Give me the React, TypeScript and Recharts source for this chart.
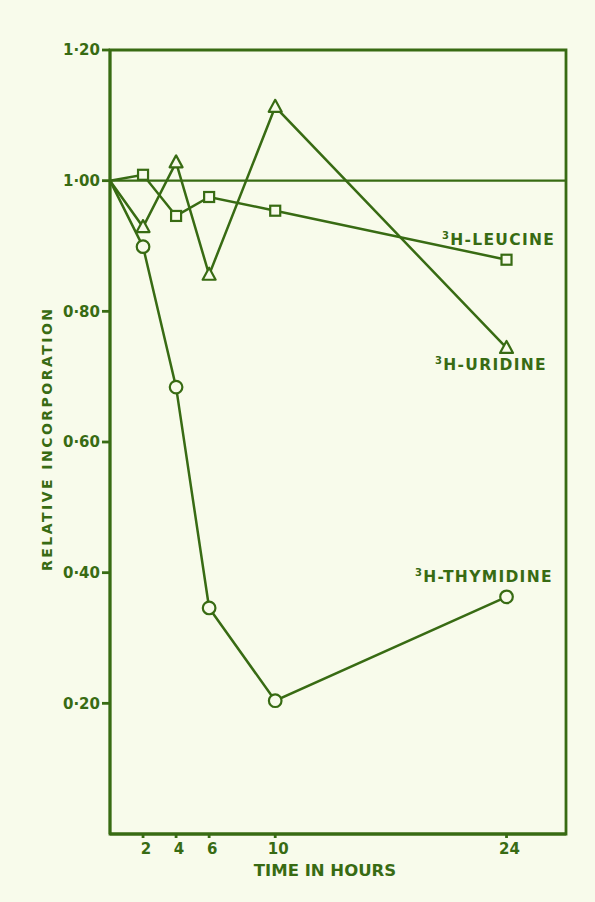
import React from "react";
import { LineChart, Line, XAxis, YAxis, ReferenceLine, ReferenceArea } from "recharts";

const INK = "#386b13";
const PAPER = "#f8fbeb";
const FONT = "'DejaVu Sans', sans-serif";

const HOURS = [0, 2, 4, 6, 10, 24];
const LEUCINE = [1.0, 1.009, 0.946, 0.975, 0.954, 0.879];
const URIDINE = [1.0, 0.929, 1.028, 0.856, 1.113, 0.744];
const THYMIDINE = [1.0, 0.899, 0.684, 0.346, 0.204, 0.363];

const X_TICKS = [2, 4, 6, 10, 24];
const Y_TICKS = [0.2, 0.4, 0.6, 0.8, 1.0, 1.2];

const data = HOURS.map((h, i) => ({
  h,
  leucine: LEUCINE[i],
  uridine: URIDINE[i],
  thymidine: THYMIDINE[i],
}));

const fmt = (v: number) => v.toFixed(2).replace(".", "·");

const Square = ({ cx, cy, index }: any) => {
  if (index === 0) return <g key={index} />;
  return <rect key={index} x={cx - 5} y={cy - 5} width={10} height={10} fill={PAPER} stroke={INK} strokeWidth={2.2} />;
};

const Triangle = ({ cx, cy, index }: any) => {
  if (index === 0) return <g key={index} />;
  return (
    <polygon
      key={index}
      points={`${cx},${cy - 7} ${cx - 6.5},${cy + 5} ${cx + 6.5},${cy + 5}`}
      fill={PAPER}
      stroke={INK}
      strokeWidth={2.2}
      strokeLinejoin="round"
    />
  );
};

const Circle = ({ cx, cy, index }: any) => {
  if (index === 0) return <g key={index} />;
  return <circle key={index} cx={cx} cy={cy} r={6.3} fill={PAPER} stroke={INK} strokeWidth={2.2} />;
};

const tickStyle = { fill: INK, fontSize: 15, fontWeight: 700, fontFamily: FONT };

const SeriesLabel = ({ x, y, text }: { x: number; y: number; text: string }) => (
  <text x={x} y={y} fill={INK} fontFamily={FONT} fontWeight={700} fontSize={15.5} letterSpacing={1.3}>
    <tspan fontSize={10} dy={-6}>3</tspan>
    <tspan dy={6}>{text}</tspan>
  </text>
);

export default function App() {
  return (
    <div style={{ position: "absolute", left: 0, top: 0, width: 595, height: 902, background: PAPER }}>
      <LineChart width={595} height={902} data={data} margin={{ top: 50, right: 29, bottom: 0, left: 0 }}>
        <XAxis
          dataKey="h"
          type="number"
          domain={[0, 27.6]}
          ticks={X_TICKS}
          height={68}
          tick={{ ...tickStyle, dx: 3 }}
          tickSize={4}
          tickMargin={5}
          stroke={INK}
          strokeWidth={2.8}
          label={{
            value: "TIME IN HOURS",
            content: () => (
              <text x={325} y={876} textAnchor="middle" fill={INK} fontFamily={FONT} fontWeight={700} fontSize={16.5}>
                TIME IN HOURS
              </text>
            ),
          }}
        />
        <YAxis
          type="number"
          domain={[0, 1.2]}
          ticks={Y_TICKS}
          width={110}
          tick={tickStyle}
          tickFormatter={fmt}
          tickSize={8}
          tickMargin={2}
          stroke={INK}
          strokeWidth={2.8}
          label={{
            value: "RELATIVE INCORPORATION",
            content: () => (
              <text
                x={47}
                y={440}
                transform="rotate(-90 47 440)"
                textAnchor="middle"
                dominantBaseline="central"
                fill={INK}
                fontFamily={FONT}
                fontWeight={700}
                fontSize={14}
                textLength={262}
                lengthAdjust="spacing"
              >
                RELATIVE INCORPORATION
              </text>
            ),
          }}
        />
        <ReferenceArea x1={0} x2={27.6} y1={0} y2={1.2} fill="none" stroke={INK} strokeWidth={2.8} />
        <ReferenceLine y={1} stroke={INK} strokeWidth={2.2} />
        <Line dataKey="leucine" stroke={INK} strokeWidth={2.5} dot={Square} isAnimationActive={false} />
        <Line dataKey="uridine" stroke={INK} strokeWidth={2.5} dot={Triangle} isAnimationActive={false} />
        <Line dataKey="thymidine" stroke={INK} strokeWidth={2.5} dot={Circle} isAnimationActive={false} />
      </LineChart>
      <svg width={595} height={902} style={{ position: "absolute", left: 0, top: 0, pointerEvents: "none" }}>
        <SeriesLabel x={442} y={245} text="H-LEUCINE" />
        <SeriesLabel x={435} y={370} text="H-URIDINE" />
        <SeriesLabel x={415} y={582} text="H-THYMIDINE" />
      </svg>
    </div>
  );
}
